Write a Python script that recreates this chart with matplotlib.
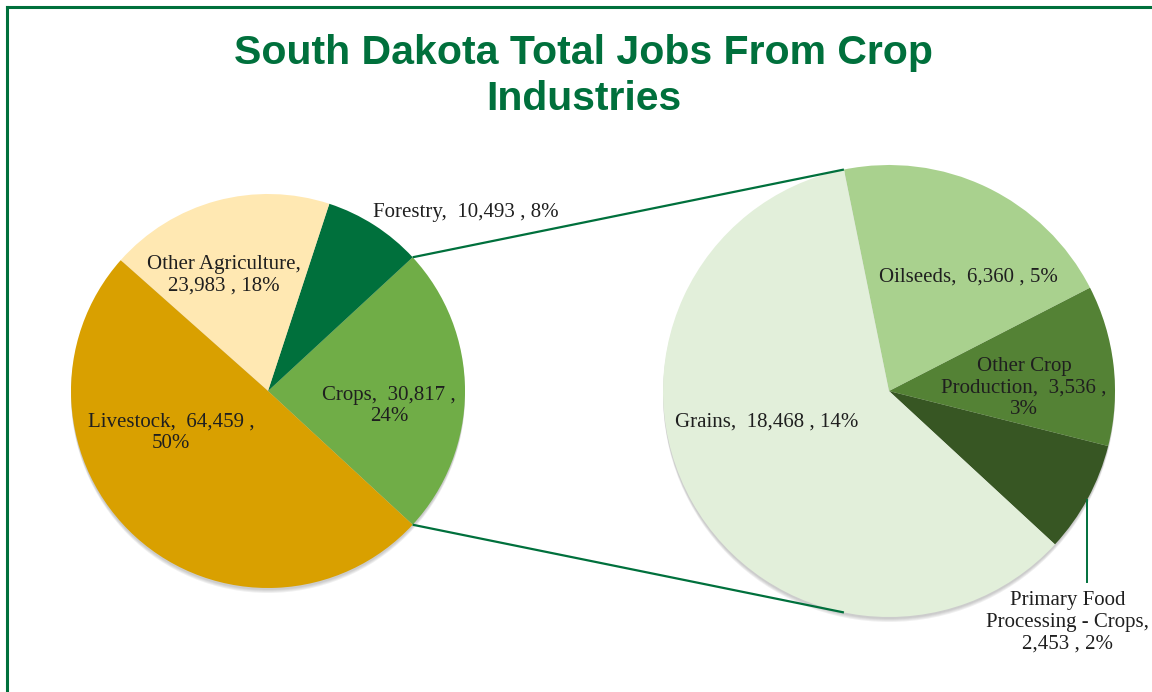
import matplotlib
matplotlib.use("Agg")
import matplotlib.pyplot as plt
import numpy as np
from matplotlib.patches import Circle
from matplotlib.lines import Line2D

# Jobs by industry group (main pie)
main_labels = ["Crops", "Forestry", "Other Agriculture", "Livestock"]
main_values = [30817, 10493, 23983, 64459]
main_colors = ["#70AD47", "#00703C", "#FFE8B2", "#D9A000"]

# Breakdown of the "Crops" slice (secondary pie)
sub_labels = ["Primary Food Processing - Crops", "Other Crop Production", "Oilseeds", "Grains"]
sub_values = [2453, 3536, 6360, 18468]
sub_colors = ["#375623", "#548235", "#A9D18E", "#E2EFDA"]

title = "South Dakota Total Jobs From Crop\nIndustries"
GREEN = "#00703C"

W, H = 1152, 692
fig = plt.figure(figsize=(W / 100, H / 100), dpi=100)
ax = fig.add_axes([0, 0, 1, 1])


def py(y):
    # pixel row (from top) -> data y
    return H - y


total = sum(main_values)
crop_total = sum(sub_values)

# geometry of the two pies
c1, r1 = (268, py(391)), 197
c2, r2 = (889, py(391)), 226
start = -360.0 * main_values[0] / total / 2  # centre the Crops slice on the right


def shadow(center, r):
    for k, a in enumerate([0.05, 0.05, 0.05, 0.06]):
        ax.add_patch(Circle((center[0], center[1] - 2 - k), r, color="black",
                            alpha=a, lw=0, zorder=1))


shadow(c1, r1)
shadow(c2, r2)

ax.pie(main_values, colors=main_colors, startangle=start, counterclock=True,
       center=c1, radius=r1, frame=True,
       wedgeprops=dict(linewidth=0, zorder=2))
ax.pie(sub_values, colors=sub_colors, startangle=start, counterclock=True,
       center=c2, radius=r2, frame=True,
       wedgeprops=dict(linewidth=0, zorder=2))
ax.set_xlim(0, W)
ax.set_ylim(0, H)
ax.set_aspect("equal")
ax.axis("off")

# connector lines from the Crops slice edges to the secondary pie
a1 = np.deg2rad(-start)
a2 = np.deg2rad(start + 360.0 * sum(sub_values[:-1]) / crop_total)
for s in (1, -1):
    x0 = c1[0] + r1 * np.cos(a1)
    y0 = c1[1] + s * r1 * np.sin(a1)
    x1 = c2[0] + r2 * np.cos(a2)
    y1 = c2[1] + s * r2 * np.sin(a2)
    ax.plot([x0, x1], [y0, y1], color=GREEN, lw=1.6, zorder=3,
            solid_capstyle="butt")


def fmt(v):
    return f"{v:,}"


def pct(v):
    return f"{round(100 * v / total):.0f}%"


font = dict(family="Liberation Serif", fontsize=15, color="#1f1f1f",
            ha="center", va="center", linespacing=1.2, zorder=5)

ax.text(466, py(213), f"{main_labels[1]},  {fmt(main_values[1])} , {pct(main_values[1])}", **font)
ax.text(224, py(275), f"{main_labels[2]},\n{fmt(main_values[2])} , {pct(main_values[2])}", **font)
ax.text(389, py(406), f"{main_labels[0]},  {fmt(main_values[0])} ,\n{pct(main_values[0])}", **font)
ax.text(171, py(433), f"{main_labels[3]},  {fmt(main_values[3])} ,\n{pct(main_values[3])}", **font)

ax.text(968, py(277), f"{sub_labels[2]},  {fmt(sub_values[2])} , {pct(sub_values[2])}", **font)
ax.text(1024, py(388), f"Other Crop\nProduction,  {fmt(sub_values[1])} ,\n{pct(sub_values[1])}", **font)
ax.text(767, py(422), f"{sub_labels[3]},  {fmt(sub_values[3])} , {pct(sub_values[3])}", **font)
ax.text(1068, py(622), f"Primary Food\nProcessing - Crops,\n{fmt(sub_values[0])} , {pct(sub_values[0])}", **font)

# leader line for the small slice label
ax.plot([1087, 1087], [py(500), py(582)], color=GREEN, lw=1.4, zorder=4)

ax.text(584, py(76), title, family="Liberation Sans", fontweight="bold",
        fontsize=29.5, color=GREEN, ha="center", va="center", linespacing=1.28)

# chart frame (top and left edges)
fig.add_artist(Line2D([7 / W, 1], [1 - 7 / H, 1 - 7 / H], color=GREEN, lw=2.2,
                      transform=fig.transFigure))
fig.add_artist(Line2D([7 / W, 7 / W], [0, 1 - 7 / H], color=GREEN, lw=2.2,
                      transform=fig.transFigure))

fig.savefig("out.png", dpi=100, facecolor="white")
